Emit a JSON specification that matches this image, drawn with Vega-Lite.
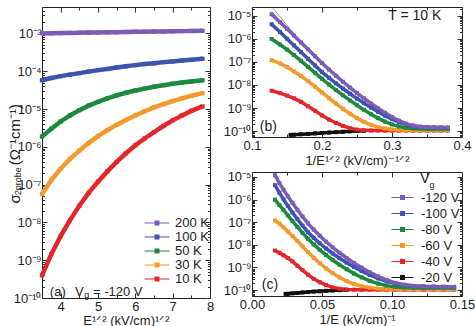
{
  "$schema": "https://vega.github.io/schema/vega-lite/v6.json",
  "background": "white",
  "padding": {"left": 7, "top": 0, "right": 0, "bottom": 0},
  "config": {
    "view": {"stroke": "#222", "strokeWidth": 1},
    "axis": {"grid": false, "domain": false, "labelFont": "Liberation Sans", "titleFont": "Liberation Sans", "labelFontSize": 13, "titleFontSize": 13, "labelColor": "#222", "titleColor": "#222", "tickColor": "#333", "labelFlush": false, "labelOverlap": false, "titleFontWeight": "normal", "titlePadding": 0},
    "axisX": {"labelPadding": 7},
    "axisY": {"labelPadding": 6},
    "text": {"font": "Liberation Sans", "color": "#222"}
  },
  "datasets": {
    "a": [
      {"T":"200 K","x":3.5,"s":1.00e-3},{"T":"200 K","x":3.75,"s":1.01e-3},{"T":"200 K","x":4,"s":1.02e-3},{"T":"200 K","x":4.25,"s":1.03e-3},{"T":"200 K","x":4.5,"s":1.04e-3},{"T":"200 K","x":4.75,"s":1.05e-3},{"T":"200 K","x":5,"s":1.06e-3},{"T":"200 K","x":5.25,"s":1.07e-3},{"T":"200 K","x":5.5,"s":1.08e-3},{"T":"200 K","x":5.75,"s":1.09e-3},{"T":"200 K","x":6,"s":1.10e-3},{"T":"200 K","x":6.25,"s":1.11e-3},{"T":"200 K","x":6.5,"s":1.12e-3},{"T":"200 K","x":6.75,"s":1.13e-3},{"T":"200 K","x":7,"s":1.14e-3},{"T":"200 K","x":7.25,"s":1.15e-3},{"T":"200 K","x":7.5,"s":1.16e-3},{"T":"200 K","x":7.8,"s":1.17e-3},
      {"T":"100 K","x":3.5,"s":5.75e-5},{"T":"100 K","x":3.75,"s":6.61e-5},{"T":"100 K","x":4,"s":7.41e-5},{"T":"100 K","x":4.25,"s":8.13e-5},{"T":"100 K","x":4.5,"s":8.91e-5},{"T":"100 K","x":4.75,"s":9.77e-5},{"T":"100 K","x":5,"s":1.07e-4},{"T":"100 K","x":5.25,"s":1.15e-4},{"T":"100 K","x":5.5,"s":1.26e-4},{"T":"100 K","x":5.75,"s":1.35e-4},{"T":"100 K","x":6,"s":1.45e-4},{"T":"100 K","x":6.25,"s":1.55e-4},{"T":"100 K","x":6.5,"s":1.62e-4},{"T":"100 K","x":6.75,"s":1.74e-4},{"T":"100 K","x":7,"s":1.82e-4},{"T":"100 K","x":7.25,"s":1.91e-4},{"T":"100 K","x":7.5,"s":2.00e-4},{"T":"100 K","x":7.8,"s":2.14e-4},
      {"T":"50 K","x":3.5,"s":1.86e-6},{"T":"50 K","x":3.75,"s":3.02e-6},{"T":"50 K","x":4,"s":4.68e-6},{"T":"50 K","x":4.25,"s":6.76e-6},{"T":"50 K","x":4.5,"s":9.33e-6},{"T":"50 K","x":4.75,"s":1.23e-5},{"T":"50 K","x":5,"s":1.55e-5},{"T":"50 K","x":5.25,"s":1.91e-5},{"T":"50 K","x":5.5,"s":2.29e-5},{"T":"50 K","x":5.75,"s":2.69e-5},{"T":"50 K","x":6,"s":3.09e-5},{"T":"50 K","x":6.25,"s":3.47e-5},{"T":"50 K","x":6.5,"s":3.89e-5},{"T":"50 K","x":6.75,"s":4.27e-5},{"T":"50 K","x":7,"s":4.68e-5},{"T":"50 K","x":7.25,"s":5.01e-5},{"T":"50 K","x":7.5,"s":5.37e-5},{"T":"50 K","x":7.8,"s":5.75e-5},
      {"T":"30 K","x":3.5,"s":5.62e-8},{"T":"30 K","x":3.75,"s":1.32e-7},{"T":"30 K","x":4,"s":2.63e-7},{"T":"30 K","x":4.25,"s":4.79e-7},{"T":"30 K","x":4.5,"s":7.94e-7},{"T":"30 K","x":4.75,"s":1.26e-6},{"T":"30 K","x":5,"s":1.91e-6},{"T":"30 K","x":5.25,"s":2.75e-6},{"T":"30 K","x":5.5,"s":3.80e-6},{"T":"30 K","x":5.75,"s":5.13e-6},{"T":"30 K","x":6,"s":6.76e-6},{"T":"30 K","x":6.25,"s":8.71e-6},{"T":"30 K","x":6.5,"s":1.10e-5},{"T":"30 K","x":6.75,"s":1.35e-5},{"T":"30 K","x":7,"s":1.62e-5},{"T":"30 K","x":7.25,"s":1.91e-5},{"T":"30 K","x":7.5,"s":2.24e-5},{"T":"30 K","x":7.8,"s":2.63e-5},
      {"T":"10 K","x":3.5,"s":3.98e-10},{"T":"10 K","x":3.75,"s":1.45e-9},{"T":"10 K","x":4,"s":4.37e-9},{"T":"10 K","x":4.25,"s":1.15e-8},{"T":"10 K","x":4.5,"s":2.75e-8},{"T":"10 K","x":4.75,"s":6.03e-8},{"T":"10 K","x":5,"s":1.20e-7},{"T":"10 K","x":5.25,"s":2.24e-7},{"T":"10 K","x":5.5,"s":3.98e-7},{"T":"10 K","x":5.75,"s":6.76e-7},{"T":"10 K","x":6,"s":1.10e-6},{"T":"10 K","x":6.25,"s":1.66e-6},{"T":"10 K","x":6.5,"s":2.45e-6},{"T":"10 K","x":6.75,"s":3.55e-6},{"T":"10 K","x":7,"s":5.01e-6},{"T":"10 K","x":7.25,"s":6.76e-6},{"T":"10 K","x":7.5,"s":8.91e-6},{"T":"10 K","x":7.8,"s":1.17e-5}
    ],
    "bc": [
      {"V":"-20 V","xb":0.155,"xc":0.0240,"s":6.8e-11},{"V":"-20 V","xb":0.16,"xc":0.0256,"s":6.9e-11},{"V":"-20 V","xb":0.17,"xc":0.0289,"s":7.2e-11},{"V":"-20 V","xb":0.18,"xc":0.0324,"s":7.5e-11},{"V":"-20 V","xb":0.19,"xc":0.0361,"s":7.9e-11},{"V":"-20 V","xb":0.20,"xc":0.0400,"s":8.2e-11},{"V":"-20 V","xb":0.21,"xc":0.0441,"s":8.6e-11},{"V":"-20 V","xb":0.22,"xc":0.0484,"s":8.9e-11},{"V":"-20 V","xb":0.23,"xc":0.0529,"s":9.3e-11},{"V":"-20 V","xb":0.24,"xc":0.0576,"s":9.7e-11},{"V":"-20 V","xb":0.25,"xc":0.0625,"s":1.0e-10},{"V":"-20 V","xb":0.26,"xc":0.0676,"s":1.02e-10},
      {"V":"-40 V","xb":0.128,"xc":0.0164,"s":5.62e-9},{"V":"-40 V","xb":0.14,"xc":0.0196,"s":4.47e-9},{"V":"-40 V","xb":0.15,"xc":0.0225,"s":3.47e-9},{"V":"-40 V","xb":0.16,"xc":0.0256,"s":2.63e-9},{"V":"-40 V","xb":0.17,"xc":0.0289,"s":1.86e-9},{"V":"-40 V","xb":0.18,"xc":0.0324,"s":1.20e-9},{"V":"-40 V","xb":0.19,"xc":0.0361,"s":7.59e-10},{"V":"-40 V","xb":0.20,"xc":0.0400,"s":4.79e-10},{"V":"-40 V","xb":0.21,"xc":0.0441,"s":3.16e-10},{"V":"-40 V","xb":0.22,"xc":0.0484,"s":2.24e-10},{"V":"-40 V","xb":0.23,"xc":0.0529,"s":1.66e-10},{"V":"-40 V","xb":0.24,"xc":0.0576,"s":1.32e-10},{"V":"-40 V","xb":0.25,"xc":0.0625,"s":1.15e-10},{"V":"-40 V","xb":0.26,"xc":0.0676,"s":1.07e-10},{"V":"-40 V","xb":0.27,"xc":0.0729,"s":1.05e-10},{"V":"-40 V","xb":0.28,"xc":0.0784,"s":1.05e-10},{"V":"-40 V","xb":0.29,"xc":0.0841,"s":1.05e-10},{"V":"-40 V","xb":0.30,"xc":0.0900,"s":1.05e-10},{"V":"-40 V","xb":0.31,"xc":0.0961,"s":1.05e-10},{"V":"-40 V","xb":0.32,"xc":0.1024,"s":1.05e-10},{"V":"-40 V","xb":0.33,"xc":0.1089,"s":1.05e-10},{"V":"-40 V","xb":0.34,"xc":0.1156,"s":1.05e-10},{"V":"-40 V","xb":0.35,"xc":0.1225,"s":1.05e-10},{"V":"-40 V","xb":0.36,"xc":0.1296,"s":1.05e-10},{"V":"-40 V","xb":0.37,"xc":0.1369,"s":1.05e-10},{"V":"-40 V","xb":0.38,"xc":0.1444,"s":1.05e-10},
      {"V":"-60 V","xb":0.128,"xc":0.0164,"s":1.20e-7},{"V":"-60 V","xb":0.14,"xc":0.0196,"s":8.71e-8},{"V":"-60 V","xb":0.15,"xc":0.0225,"s":6.03e-8},{"V":"-60 V","xb":0.16,"xc":0.0256,"s":3.89e-8},{"V":"-60 V","xb":0.17,"xc":0.0289,"s":2.45e-8},{"V":"-60 V","xb":0.18,"xc":0.0324,"s":1.48e-8},{"V":"-60 V","xb":0.19,"xc":0.0361,"s":8.51e-9},{"V":"-60 V","xb":0.20,"xc":0.0400,"s":4.79e-9},{"V":"-60 V","xb":0.21,"xc":0.0441,"s":2.69e-9},{"V":"-60 V","xb":0.22,"xc":0.0484,"s":1.55e-9},{"V":"-60 V","xb":0.23,"xc":0.0529,"s":9.12e-10},{"V":"-60 V","xb":0.24,"xc":0.0576,"s":5.62e-10},{"V":"-60 V","xb":0.25,"xc":0.0625,"s":3.63e-10},{"V":"-60 V","xb":0.26,"xc":0.0676,"s":2.51e-10},{"V":"-60 V","xb":0.27,"xc":0.0729,"s":1.86e-10},{"V":"-60 V","xb":0.28,"xc":0.0784,"s":1.48e-10},{"V":"-60 V","xb":0.29,"xc":0.0841,"s":1.29e-10},{"V":"-60 V","xb":0.30,"xc":0.0900,"s":1.17e-10},{"V":"-60 V","xb":0.31,"xc":0.0961,"s":1.12e-10},{"V":"-60 V","xb":0.32,"xc":0.1024,"s":1.10e-10},{"V":"-60 V","xb":0.33,"xc":0.1089,"s":1.10e-10},{"V":"-60 V","xb":0.34,"xc":0.1156,"s":1.10e-10},{"V":"-60 V","xb":0.35,"xc":0.1225,"s":1.10e-10},{"V":"-60 V","xb":0.36,"xc":0.1296,"s":1.10e-10},{"V":"-60 V","xb":0.37,"xc":0.1369,"s":1.10e-10},{"V":"-60 V","xb":0.38,"xc":0.1444,"s":1.10e-10},
      {"V":"-80 V","xb":0.128,"xc":0.0164,"s":1.00e-6},{"V":"-80 V","xb":0.14,"xc":0.0196,"s":5.75e-7},{"V":"-80 V","xb":0.15,"xc":0.0225,"s":3.47e-7},{"V":"-80 V","xb":0.16,"xc":0.0256,"s":2.00e-7},{"V":"-80 V","xb":0.17,"xc":0.0289,"s":1.12e-7},{"V":"-80 V","xb":0.18,"xc":0.0324,"s":6.17e-8},{"V":"-80 V","xb":0.19,"xc":0.0361,"s":3.39e-8},{"V":"-80 V","xb":0.20,"xc":0.0400,"s":1.86e-8},{"V":"-80 V","xb":0.21,"xc":0.0441,"s":1.05e-8},{"V":"-80 V","xb":0.22,"xc":0.0484,"s":6.03e-9},{"V":"-80 V","xb":0.23,"xc":0.0529,"s":3.55e-9},{"V":"-80 V","xb":0.24,"xc":0.0576,"s":2.14e-9},{"V":"-80 V","xb":0.25,"xc":0.0625,"s":1.32e-9},{"V":"-80 V","xb":0.26,"xc":0.0676,"s":8.32e-10},{"V":"-80 V","xb":0.27,"xc":0.0729,"s":5.37e-10},{"V":"-80 V","xb":0.28,"xc":0.0784,"s":3.63e-10},{"V":"-80 V","xb":0.29,"xc":0.0841,"s":2.57e-10},{"V":"-80 V","xb":0.30,"xc":0.0900,"s":1.95e-10},{"V":"-80 V","xb":0.31,"xc":0.0961,"s":1.58e-10},{"V":"-80 V","xb":0.32,"xc":0.1024,"s":1.38e-10},{"V":"-80 V","xb":0.33,"xc":0.1089,"s":1.29e-10},{"V":"-80 V","xb":0.34,"xc":0.1156,"s":1.26e-10},{"V":"-80 V","xb":0.35,"xc":0.1225,"s":1.23e-10},{"V":"-80 V","xb":0.36,"xc":0.1296,"s":1.23e-10},{"V":"-80 V","xb":0.37,"xc":0.1369,"s":1.23e-10},{"V":"-80 V","xb":0.38,"xc":0.1444,"s":1.23e-10},
      {"V":"-100 V","xb":0.128,"xc":0.0164,"s":4.37e-6},{"V":"-100 V","xb":0.14,"xc":0.0196,"s":2.00e-6},{"V":"-100 V","xb":0.15,"xc":0.0225,"s":1.02e-6},{"V":"-100 V","xb":0.16,"xc":0.0256,"s":5.25e-7},{"V":"-100 V","xb":0.17,"xc":0.0289,"s":2.69e-7},{"V":"-100 V","xb":0.18,"xc":0.0324,"s":1.38e-7},{"V":"-100 V","xb":0.19,"xc":0.0361,"s":7.08e-8},{"V":"-100 V","xb":0.20,"xc":0.0400,"s":3.63e-8},{"V":"-100 V","xb":0.21,"xc":0.0441,"s":2.04e-8},{"V":"-100 V","xb":0.22,"xc":0.0484,"s":1.17e-8},{"V":"-100 V","xb":0.23,"xc":0.0529,"s":6.92e-9},{"V":"-100 V","xb":0.24,"xc":0.0576,"s":4.17e-9},{"V":"-100 V","xb":0.25,"xc":0.0625,"s":2.57e-9},{"V":"-100 V","xb":0.26,"xc":0.0676,"s":1.62e-9},{"V":"-100 V","xb":0.27,"xc":0.0729,"s":1.05e-9},{"V":"-100 V","xb":0.28,"xc":0.0784,"s":6.92e-10},{"V":"-100 V","xb":0.29,"xc":0.0841,"s":4.68e-10},{"V":"-100 V","xb":0.30,"xc":0.0900,"s":3.31e-10},{"V":"-100 V","xb":0.31,"xc":0.0961,"s":2.45e-10},{"V":"-100 V","xb":0.32,"xc":0.1024,"s":1.95e-10},{"V":"-100 V","xb":0.33,"xc":0.1089,"s":1.66e-10},{"V":"-100 V","xb":0.34,"xc":0.1156,"s":1.51e-10},{"V":"-100 V","xb":0.35,"xc":0.1225,"s":1.45e-10},{"V":"-100 V","xb":0.36,"xc":0.1296,"s":1.41e-10},{"V":"-100 V","xb":0.37,"xc":0.1369,"s":1.41e-10},{"V":"-100 V","xb":0.38,"xc":0.1444,"s":1.38e-10},
      {"V":"-120 V","xb":0.128,"xc":0.0164,"s":1.20e-5},{"V":"-120 V","xb":0.14,"xc":0.0196,"s":5.37e-6},{"V":"-120 V","xb":0.15,"xc":0.0225,"s":2.75e-6},{"V":"-120 V","xb":0.16,"xc":0.0256,"s":1.41e-6},{"V":"-120 V","xb":0.17,"xc":0.0289,"s":7.08e-7},{"V":"-120 V","xb":0.18,"xc":0.0324,"s":3.55e-7},{"V":"-120 V","xb":0.19,"xc":0.0361,"s":1.78e-7},{"V":"-120 V","xb":0.20,"xc":0.0400,"s":8.91e-8},{"V":"-120 V","xb":0.21,"xc":0.0441,"s":4.68e-8},{"V":"-120 V","xb":0.22,"xc":0.0484,"s":2.51e-8},{"V":"-120 V","xb":0.23,"xc":0.0529,"s":1.38e-8},{"V":"-120 V","xb":0.24,"xc":0.0576,"s":7.76e-9},{"V":"-120 V","xb":0.25,"xc":0.0625,"s":4.47e-9},{"V":"-120 V","xb":0.26,"xc":0.0676,"s":2.63e-9},{"V":"-120 V","xb":0.27,"xc":0.0729,"s":1.58e-9},{"V":"-120 V","xb":0.28,"xc":0.0784,"s":9.77e-10},{"V":"-120 V","xb":0.29,"xc":0.0841,"s":6.17e-10},{"V":"-120 V","xb":0.30,"xc":0.0900,"s":4.07e-10},{"V":"-120 V","xb":0.31,"xc":0.0961,"s":2.82e-10},{"V":"-120 V","xb":0.32,"xc":0.1024,"s":2.09e-10},{"V":"-120 V","xb":0.33,"xc":0.1089,"s":1.74e-10},{"V":"-120 V","xb":0.34,"xc":0.1156,"s":1.55e-10},{"V":"-120 V","xb":0.35,"xc":0.1225,"s":1.48e-10},{"V":"-120 V","xb":0.36,"xc":0.1296,"s":1.45e-10},{"V":"-120 V","xb":0.37,"xc":0.1369,"s":1.41e-10},{"V":"-120 V","xb":0.38,"xc":0.1444,"s":1.41e-10}
    ]
  },
  "spacing": 7,
  "resolve": {"scale": {"stroke": "independent", "fill": "independent"}, "legend": {"stroke": "independent", "fill": "independent"}},
  "hconcat": [
    {
      "width": 168, "height": 291,
      "data": {"name": "a"},
      "resolve": {"axis": {"x": "independent", "y": "independent"}},
      "layer": [
        {
          "mark": {"type": "line", "strokeWidth": 4.5},
          "encoding": {
            "x": {"field": "x", "type": "quantitative", "scale": {"domain": [3.5, 8], "nice": false, "zero": false},
              "axis": {"title": "E¹ᐟ² (kV/cm)¹ᐟ²", "titlePadding": -1, "values": [3.5,4,4.5,5,5.5,6,6.5,7,7.5,8], "labelExpr": "datum.value % 1 == 0 ? '' + datum.value : ''", "tickSize": {"condition": {"test": "datum.value % 1 == 0", "value": -5}, "value": -3}}},
            "y": {"field": "s", "type": "quantitative", "scale": {"type": "log", "domain": [1e-10, 5e-3], "nice": false},
              "axis": {"title": null, "values": [1e-10,2e-10,3e-10,4e-10,5e-10,6e-10,7e-10,8e-10,9e-10,1e-9,2e-9,3e-9,4e-9,5e-9,6e-9,7e-9,8e-9,9e-9,1e-8,2e-8,3e-8,4e-8,5e-8,6e-8,7e-8,8e-8,9e-8,1e-7,2e-7,3e-7,4e-7,5e-7,6e-7,7e-7,8e-7,9e-7,1e-6,2e-6,3e-6,4e-6,5e-6,6e-6,7e-6,8e-6,9e-6,1e-5,2e-5,3e-5,4e-5,5e-5,6e-5,7e-5,8e-5,9e-5,1e-4,2e-4,3e-4,4e-4,5e-4,6e-4,7e-4,8e-4,9e-4,1e-3,2e-3,3e-3,4e-3,5e-3],
                "labelExpr": "abs(log(datum.value)/LN10 - round(log(datum.value)/LN10)) > 0.001 ? '' : '10' + replace(replace(replace(replace(replace(replace(replace(replace(replace(replace(replace('' + round(log(datum.value)/LN10), '-', '⁻'), '0', '⁰'), '1', '¹'), '2', '²'), '3', '³'), '4', '⁴'), '5', '⁵'), '6', '⁶'), '7', '⁷'), '8', '⁸'), '9', '⁹')",
                "tickSize": {"condition": {"test": "abs(log(datum.value)/LN10 - round(log(datum.value)/LN10)) < 0.001", "value": -5}, "value": -2.5}}},
            "stroke": {"field": "T", "type": "nominal", "scale": {"domain": ["200 K","100 K","50 K","30 K","10 K"], "range": ["#7b5cb8","#3c54ae","#1b8a3e","#f4992c","#e3262a"]},
              "legend": {"orient": "none", "legendX": 108, "legendY": 209, "title": null, "symbolType": "M-2,0L2,0M-0.4,-0.32L0.4,-0.32M-0.4,-0.16L0.4,-0.16M-0.4,0L0.4,0M-0.4,0.16L0.4,0.16M-0.4,0.32L0.4,0.32", "symbolSize": 156, "symbolStrokeWidth": 1.2, "symbolOpacity": 1, "labelFontSize": 13, "labelFont": "Liberation Sans", "labelColor": "#222", "labelOffset": 11, "rowPadding": -2}}
          }
        },
        {
          "mark": {"type": "point", "shape": "square", "filled": true, "size": 18, "opacity": 1},
          "encoding": {
            "x": {"field": "x", "type": "quantitative", "scale": {"domain": [3.5, 8], "nice": false, "zero": false}, "axis": null},
            "y": {"field": "s", "type": "quantitative", "scale": {"type": "log", "domain": [1e-10, 5e-3], "nice": false}, "axis": null},
            "fill": {"field": "T", "type": "nominal", "scale": {"domain": ["200 K","100 K","50 K","30 K","10 K"], "range": ["#7b5cb8","#3c54ae","#1b8a3e","#f4992c","#e3262a"]}, "legend": null}
          }
        },
        {
          "data": {"values": [{"x": 3.71, "s": 1.45e-10, "t": "(a)"}, {"x": 4.385, "s": 1.45e-10, "t": "V"}, {"x": 4.867, "s": 1.45e-10, "t": "= -120 V"}]},
          "mark": {"type": "text", "fontSize": 13, "align": "left", "baseline": "middle"},
          "encoding": {
            "x": {"field": "x", "type": "quantitative", "scale": {"domain": [3.5, 8], "nice": false, "zero": false}, "axis": null},
            "y": {"field": "s", "type": "quantitative", "scale": {"type": "log", "domain": [1e-10, 5e-3], "nice": false}, "axis": null},
            "text": {"field": "t"}
          }
        },
        {
          "data": {"values": [{"x": 4.63, "s": 1.17e-10, "t": "g"}]},
          "mark": {"type": "text", "fontSize": 9, "align": "left", "baseline": "middle"},
          "encoding": {
            "x": {"field": "x", "type": "quantitative", "scale": {"domain": [3.5, 8], "nice": false, "zero": false}, "axis": null},
            "y": {"field": "s", "type": "quantitative", "scale": {"type": "log", "domain": [1e-10, 5e-3], "nice": false}, "axis": null},
            "text": {"field": "t"}
          }
        },
        {
          "data": {"values": [{"x": 2.776, "s": 4.2e-8, "t": "σ"}, {"x": 2.776, "s": 2.09e-6, "t": "(Ω⁻¹cm⁻¹)"}]},
          "mark": {"type": "text", "fontSize": 15, "align": "center", "baseline": "middle", "angle": 270},
          "encoding": {
            "x": {"field": "x", "type": "quantitative", "scale": {"domain": [3.5, 8], "nice": false, "zero": false}, "axis": null},
            "y": {"field": "s", "type": "quantitative", "scale": {"type": "log", "domain": [1e-10, 5e-3], "nice": false}, "axis": null},
            "text": {"field": "t"}
          }
        },
        {
          "data": {"values": [{"x": 2.857, "s": 1.23e-7, "t": "2probe"}]},
          "mark": {"type": "text", "fontSize": 9, "align": "center", "baseline": "middle", "angle": 270},
          "encoding": {
            "x": {"field": "x", "type": "quantitative", "scale": {"domain": [3.5, 8], "nice": false, "zero": false}, "axis": null},
            "y": {"field": "s", "type": "quantitative", "scale": {"type": "log", "domain": [1e-10, 5e-3], "nice": false}, "axis": null},
            "text": {"field": "t"}
          }
        },
        {
          "mark": {"type": "point", "opacity": 0},
          "encoding": {
            "x": {"field": "x", "type": "quantitative", "scale": {"domain": [3.5, 8], "nice": false, "zero": false},
              "axis": {"orient": "top", "labels": false, "title": null, "values": [3.5,4,4.5,5,5.5,6,6.5,7,7.5,8], "tickSize": {"condition": {"test": "datum.value % 1 == 0", "value": -5}, "value": -3}}},
            "y": {"field": "s", "type": "quantitative", "scale": {"type": "log", "domain": [1e-10, 5e-3], "nice": false},
              "axis": {"orient": "right", "labels": false, "title": null, "values": [1e-10,2e-10,3e-10,4e-10,5e-10,6e-10,7e-10,8e-10,9e-10,1e-9,2e-9,3e-9,4e-9,5e-9,6e-9,7e-9,8e-9,9e-9,1e-8,2e-8,3e-8,4e-8,5e-8,6e-8,7e-8,8e-8,9e-8,1e-7,2e-7,3e-7,4e-7,5e-7,6e-7,7e-7,8e-7,9e-7,1e-6,2e-6,3e-6,4e-6,5e-6,6e-6,7e-6,8e-6,9e-6,1e-5,2e-5,3e-5,4e-5,5e-5,6e-5,7e-5,8e-5,9e-5,1e-4,2e-4,3e-4,4e-4,5e-4,6e-4,7e-4,8e-4,9e-4,1e-3,2e-3,3e-3,4e-3,5e-3],
                "tickSize": {"condition": {"test": "abs(log(datum.value)/LN10 - round(log(datum.value)/LN10)) < 0.001", "value": -5}, "value": -2.5}}}
          }
        }
      ]
    },
    {
      "spacing": -1,
      "resolve": {"scale": {"stroke": "independent", "fill": "independent"}, "legend": {"stroke": "independent", "fill": "independent"}},
      "vconcat": [
        {
          "width": 210, "height": 130,
          "data": {"name": "bc"},
          "resolve": {"axis": {"x": "independent", "y": "independent"}},
          "layer": [
            {
              "data": {"values": [{"xb": 0.13, "s": 2.19e-5}, {"xb": 0.16, "s": 1.66e-6}]},
              "mark": {"type": "line", "color": "#777", "strokeWidth": 0.8},
              "encoding": {
                "x": {"field": "xb", "type": "quantitative", "scale": {"domain": [0.1, 0.4], "nice": false, "zero": false}, "axis": null},
                "y": {"field": "s", "type": "quantitative", "scale": {"type": "log", "domain": [5.5e-11, 2.45e-5], "nice": false}, "axis": null}
              }
            },
            {
              "mark": {"type": "line", "strokeWidth": 3.5},
              "encoding": {
                "x": {"field": "xb", "type": "quantitative", "scale": {"domain": [0.1, 0.4], "nice": false, "zero": false},
                  "axis": {"title": "1/E¹ᐟ² (kV/cm)⁻¹ᐟ²", "values": [0.1,0.15,0.2,0.25,0.3,0.35,0.4], "labelExpr": "abs(datum.value*10 - round(datum.value*10)) < 0.001 ? format(datum.value, '.1f') : ''", "tickSize": {"condition": {"test": "abs(datum.value*10 - round(datum.value*10)) < 0.001", "value": -5}, "value": -3}}},
                "y": {"field": "s", "type": "quantitative", "scale": {"type": "log", "domain": [5.5e-11, 2.45e-5], "nice": false},
                  "axis": {"title": null, "values": [6e-11,7e-11,8e-11,9e-11,1e-10,2e-10,3e-10,4e-10,5e-10,6e-10,7e-10,8e-10,9e-10,1e-9,2e-9,3e-9,4e-9,5e-9,6e-9,7e-9,8e-9,9e-9,1e-8,2e-8,3e-8,4e-8,5e-8,6e-8,7e-8,8e-8,9e-8,1e-7,2e-7,3e-7,4e-7,5e-7,6e-7,7e-7,8e-7,9e-7,1e-6,2e-6,3e-6,4e-6,5e-6,6e-6,7e-6,8e-6,9e-6,1e-5,2e-5],
                    "labelExpr": "abs(log(datum.value)/LN10 - round(log(datum.value)/LN10)) > 0.001 ? '' : '10' + replace(replace(replace(replace(replace(replace(replace(replace(replace(replace(replace('' + round(log(datum.value)/LN10), '-', '⁻'), '0', '⁰'), '1', '¹'), '2', '²'), '3', '³'), '4', '⁴'), '5', '⁵'), '6', '⁶'), '7', '⁷'), '8', '⁸'), '9', '⁹')",
                    "tickSize": {"condition": {"test": "abs(log(datum.value)/LN10 - round(log(datum.value)/LN10)) < 0.001", "value": -5}, "value": -2.5}}},
                "stroke": {"field": "V", "type": "nominal", "scale": {"domain": ["-120 V","-100 V","-80 V","-60 V","-40 V","-20 V"], "range": ["#7b5cb8","#3c54ae","#1b8a3e","#f4992c","#e3262a","#111111"]}, "legend": null}
              }
            },
            {
              "mark": {"type": "point", "shape": "square", "filled": true, "size": 16, "opacity": 1},
              "encoding": {
                "x": {"field": "xb", "type": "quantitative", "scale": {"domain": [0.1, 0.4], "nice": false, "zero": false}, "axis": null},
                "y": {"field": "s", "type": "quantitative", "scale": {"type": "log", "domain": [5.5e-11, 2.45e-5], "nice": false}, "axis": null},
                "fill": {"field": "V", "type": "nominal", "scale": {"domain": ["-120 V","-100 V","-80 V","-60 V","-40 V","-20 V"], "range": ["#7b5cb8","#3c54ae","#1b8a3e","#f4992c","#e3262a","#111111"]}, "legend": null}
              }
            },
            {
              "data": {"values": [{"xb": 0.3325, "s": 1.0e-5, "t": "T = 10 K"}, {"xb": 0.1233, "s": 1.55e-10, "t": "(b)"}]},
              "mark": {"type": "text", "fontSize": 14, "align": "center", "baseline": "middle"},
              "encoding": {
                "x": {"field": "xb", "type": "quantitative", "scale": {"domain": [0.1, 0.4], "nice": false, "zero": false}, "axis": null},
                "y": {"field": "s", "type": "quantitative", "scale": {"type": "log", "domain": [5.5e-11, 2.45e-5], "nice": false}, "axis": null},
                "text": {"field": "t"}
              }
            },
            {
              "mark": {"type": "point", "opacity": 0},
              "encoding": {
                "x": {"field": "xb", "type": "quantitative", "scale": {"domain": [0.1, 0.4], "nice": false, "zero": false},
                  "axis": {"orient": "top", "labels": false, "title": null, "values": [0.1,0.15,0.2,0.25,0.3,0.35,0.4], "tickSize": {"condition": {"test": "abs(datum.value*10 - round(datum.value*10)) < 0.001", "value": -5}, "value": -3}}},
                "y": {"field": "s", "type": "quantitative", "scale": {"type": "log", "domain": [5.5e-11, 2.45e-5], "nice": false},
                  "axis": {"orient": "right", "labels": false, "title": null, "values": [6e-11,7e-11,8e-11,9e-11,1e-10,2e-10,3e-10,4e-10,5e-10,6e-10,7e-10,8e-10,9e-10,1e-9,2e-9,3e-9,4e-9,5e-9,6e-9,7e-9,8e-9,9e-9,1e-8,2e-8,3e-8,4e-8,5e-8,6e-8,7e-8,8e-8,9e-8,1e-7,2e-7,3e-7,4e-7,5e-7,6e-7,7e-7,8e-7,9e-7,1e-6,2e-6,3e-6,4e-6,5e-6,6e-6,7e-6,8e-6,9e-6,1e-5,2e-5],
                    "tickSize": {"condition": {"test": "abs(log(datum.value)/LN10 - round(log(datum.value)/LN10)) < 0.001", "value": -5}, "value": -2.5}}}
              }
            }
          ]
        },
        {
          "width": 210, "height": 124,
          "data": {"name": "bc"},
          "resolve": {"axis": {"x": "independent", "y": "independent"}},
          "layer": [
            {
              "data": {"values": [{"xc": 0.0160, "s": 1.62e-5}, {"xc": 0.0190, "s": 6.03e-6}]},
              "mark": {"type": "line", "color": "#777", "strokeWidth": 0.8},
              "encoding": {
                "x": {"field": "xc", "type": "quantitative", "scale": {"domain": [0, 0.15], "nice": false, "zero": false}, "axis": null},
                "y": {"field": "s", "type": "quantitative", "scale": {"type": "log", "domain": [5.5e-11, 1.66e-5], "nice": false}, "axis": null}
              }
            },
            {
              "mark": {"type": "line", "strokeWidth": 3.5},
              "encoding": {
                "x": {"field": "xc", "type": "quantitative", "scale": {"domain": [0, 0.15], "nice": false, "zero": false},
                  "axis": {"title": "1/E (kV/cm)⁻¹", "values": [0,0.025,0.05,0.075,0.1,0.125,0.15], "labelExpr": "abs(datum.value*20 - round(datum.value*20)) < 0.001 ? format(datum.value, '.2f') : ''", "tickSize": {"condition": {"test": "abs(datum.value*20 - round(datum.value*20)) < 0.001", "value": -5}, "value": -3}}},
                "y": {"field": "s", "type": "quantitative", "scale": {"type": "log", "domain": [5.5e-11, 1.66e-5], "nice": false},
                  "axis": {"title": null, "values": [6e-11,7e-11,8e-11,9e-11,1e-10,2e-10,3e-10,4e-10,5e-10,6e-10,7e-10,8e-10,9e-10,1e-9,2e-9,3e-9,4e-9,5e-9,6e-9,7e-9,8e-9,9e-9,1e-8,2e-8,3e-8,4e-8,5e-8,6e-8,7e-8,8e-8,9e-8,1e-7,2e-7,3e-7,4e-7,5e-7,6e-7,7e-7,8e-7,9e-7,1e-6,2e-6,3e-6,4e-6,5e-6,6e-6,7e-6,8e-6,9e-6,1e-5],
                    "labelExpr": "abs(log(datum.value)/LN10 - round(log(datum.value)/LN10)) > 0.001 ? '' : '10' + replace(replace(replace(replace(replace(replace(replace(replace(replace(replace(replace('' + round(log(datum.value)/LN10), '-', '⁻'), '0', '⁰'), '1', '¹'), '2', '²'), '3', '³'), '4', '⁴'), '5', '⁵'), '6', '⁶'), '7', '⁷'), '8', '⁸'), '9', '⁹')",
                    "tickSize": {"condition": {"test": "abs(log(datum.value)/LN10 - round(log(datum.value)/LN10)) < 0.001", "value": -5}, "value": -2.5}}},
                "stroke": {"field": "V", "type": "nominal", "scale": {"domain": ["-120 V","-100 V","-80 V","-60 V","-40 V","-20 V"], "range": ["#7b5cb8","#3c54ae","#1b8a3e","#f4992c","#e3262a","#111111"]},
                  "legend": {"orient": "none", "legendX": 142, "legendY": 17, "title": null, "symbolType": "M-1.467,0L1.467,0M-0.333,-0.267L0.333,-0.267M-0.333,-0.133L0.333,-0.133M-0.333,0L0.333,0M-0.333,0.133L0.333,0.133M-0.333,0.267L0.333,0.267", "symbolSize": 225, "symbolStrokeWidth": 1.2, "symbolOpacity": 1, "labelFontSize": 13, "labelFont": "Liberation Sans", "labelColor": "#222", "labelOffset": 10, "rowPadding": -0.6}}
              }
            },
            {
              "mark": {"type": "point", "shape": "square", "filled": true, "size": 16, "opacity": 1},
              "encoding": {
                "x": {"field": "xc", "type": "quantitative", "scale": {"domain": [0, 0.15], "nice": false, "zero": false}, "axis": null},
                "y": {"field": "s", "type": "quantitative", "scale": {"type": "log", "domain": [5.5e-11, 1.66e-5], "nice": false}, "axis": null},
                "fill": {"field": "V", "type": "nominal", "scale": {"domain": ["-120 V","-100 V","-80 V","-60 V","-40 V","-20 V"], "range": ["#7b5cb8","#3c54ae","#1b8a3e","#f4992c","#e3262a","#111111"]}, "legend": null}
              }
            },
            {
              "data": {"values": [{"xc": 0.01277, "s": 1.66e-10, "t": "(c)"}, {"xc": 0.1235, "s": 8.1e-6, "t": "V"}]},
              "mark": {"type": "text", "fontSize": 14, "align": "center", "baseline": "middle"},
              "encoding": {
                "x": {"field": "xc", "type": "quantitative", "scale": {"domain": [0, 0.15], "nice": false, "zero": false}, "axis": null},
                "y": {"field": "s", "type": "quantitative", "scale": {"type": "log", "domain": [5.5e-11, 1.66e-5], "nice": false}, "axis": null},
                "text": {"field": "t"}
              }
            },
            {
              "data": {"values": [{"xc": 0.1285, "s": 4.5e-6, "t": "g"}]},
              "mark": {"type": "text", "fontSize": 9, "align": "center", "baseline": "middle"},
              "encoding": {
                "x": {"field": "xc", "type": "quantitative", "scale": {"domain": [0, 0.15], "nice": false, "zero": false}, "axis": null},
                "y": {"field": "s", "type": "quantitative", "scale": {"type": "log", "domain": [5.5e-11, 1.66e-5], "nice": false}, "axis": null},
                "text": {"field": "t"}
              }
            },
            {
              "mark": {"type": "point", "opacity": 0},
              "encoding": {
                "x": {"field": "xc", "type": "quantitative", "scale": {"domain": [0, 0.15], "nice": false, "zero": false},
                  "axis": {"orient": "top", "labels": false, "title": null, "values": [0,0.025,0.05,0.075,0.1,0.125,0.15], "tickSize": {"condition": {"test": "abs(datum.value*20 - round(datum.value*20)) < 0.001", "value": -5}, "value": -3}}},
                "y": {"field": "s", "type": "quantitative", "scale": {"type": "log", "domain": [5.5e-11, 1.66e-5], "nice": false},
                  "axis": {"orient": "right", "labels": false, "title": null, "values": [6e-11,7e-11,8e-11,9e-11,1e-10,2e-10,3e-10,4e-10,5e-10,6e-10,7e-10,8e-10,9e-10,1e-9,2e-9,3e-9,4e-9,5e-9,6e-9,7e-9,8e-9,9e-9,1e-8,2e-8,3e-8,4e-8,5e-8,6e-8,7e-8,8e-8,9e-8,1e-7,2e-7,3e-7,4e-7,5e-7,6e-7,7e-7,8e-7,9e-7,1e-6,2e-6,3e-6,4e-6,5e-6,6e-6,7e-6,8e-6,9e-6,1e-5],
                    "tickSize": {"condition": {"test": "abs(log(datum.value)/LN10 - round(log(datum.value)/LN10)) < 0.001", "value": -5}, "value": -2.5}}}
              }
            }
          ]
        }
      ]
    }
  ]
}
